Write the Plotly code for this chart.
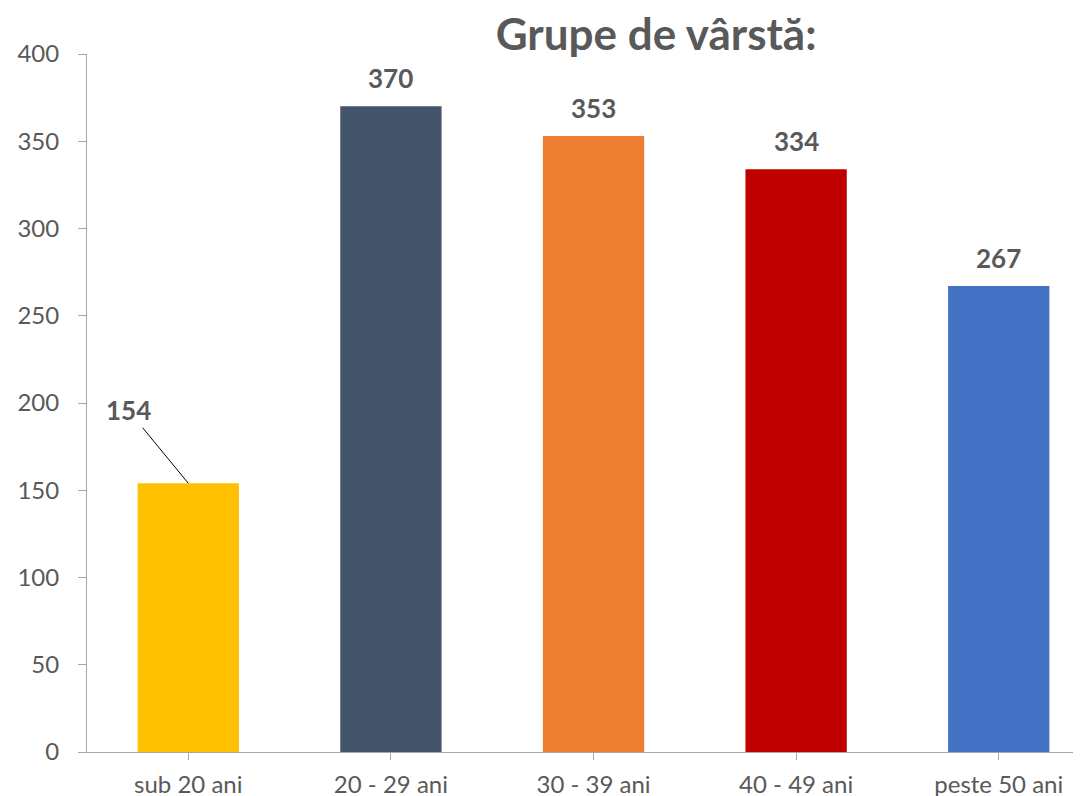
import plotly.graph_objects as go

categories = ["sub 20 ani", "20 - 29 ani", "30 - 39 ani", "40 - 49 ani", "peste 50 ani"]
values = [154, 370, 353, 334, 267]
colors = ["#FFC000", "#44546A", "#ED7D31", "#C00000", "#4472C4"]
y_ticks = [0, 50, 100, 150, 200, 250, 300, 350, 400]
title_text = "Grupe de vârstă:"

TXT = "#595959"
AX = "#A6A6A6"
FONT = "Lato"

fig = go.Figure()
fig.add_trace(go.Bar(
    x=list(range(len(categories))),
    y=values,
    marker=dict(color=colors, line=dict(width=0)),
    width=0.5,
    hoverinfo="skip",
))

annotations = []
for i, v in enumerate(values):
    if i == 0:
        annotations.append(dict(
            x=i, y=v, xref="x", yref="y", text=f"<b>{v}</b>",
            showarrow=True, arrowhead=0, arrowwidth=1, arrowcolor="#000000",
            ax=-60, ay=-73, standoff=0, startstandoff=0,
            font=dict(family=FONT, size=26, color=TXT),
        ))
    else:
        annotations.append(dict(
            x=i, y=v, xref="x", yref="y", text=f"<b>{v}</b>",
            showarrow=False, yanchor="bottom", yshift=10,
            font=dict(family=FONT, size=26, color=TXT),
        ))

fig.update_layout(
    width=1073, height=788,
    margin=dict(l=79, r=0, t=46, b=44, autoexpand=False),
    paper_bgcolor="white", plot_bgcolor="white",
    showlegend=False,
    font=dict(family=FONT, color=TXT),
    title=dict(text=f"<b>{title_text}</b>", x=0.604, xanchor="center",
               y=0.966, yanchor="middle",
               font=dict(family=FONT, size=44, color=TXT)),
    annotations=annotations,
)

fig.update_xaxes(
    range=[-0.5, 4.406], automargin=False,
    tickmode="array", tickvals=list(range(len(categories))), ticktext=categories,
    showgrid=False, zeroline=False,
    showline=True, linecolor=AX, linewidth=1,
    ticks="outside", ticklen=7, tickcolor=AX, tickwidth=1,
    ticklabelstandoff=4,
    tickfont=dict(family=FONT, size=24, color=TXT),
)

fig.update_yaxes(
    range=[0, 400], automargin=False,
    tickmode="array", tickvals=y_ticks,
    showgrid=False, zeroline=False,
    showline=True, linecolor=AX, linewidth=1,
    ticks="outside", ticklen=8, tickcolor=AX, tickwidth=1,
    ticklabelstandoff=14,
    tickfont=dict(family=FONT, size=24, color=TXT),
)

fig.write_html("out.html")
